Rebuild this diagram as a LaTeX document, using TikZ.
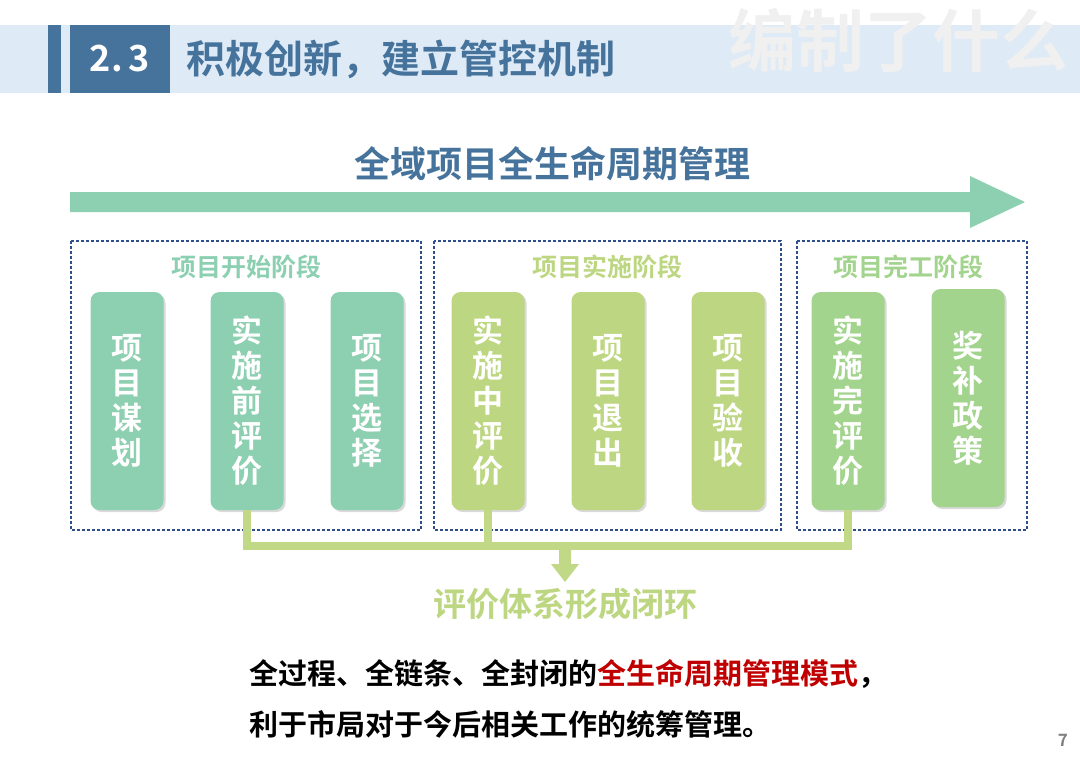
\documentclass[tikz,border=0pt]{standalone}
\usepackage{fontspec}
\setmainfont{Noto Sans CJK SC Bold}
\usetikzlibrary{arrows.meta,positioning,shadows}
\definecolor{band}{HTML}{DEEAF6}
\definecolor{steel}{HTML}{46739C}
\definecolor{teal}{HTML}{8DCFB1}
\definecolor{lime}{HTML}{BDD681}
\definecolor{leaf}{HTML}{A2D48D}
\definecolor{dotblue}{HTML}{2E4E8C}
\definecolor{linkgreen}{HTML}{C1D987}
\definecolor{redtxt}{HTML}{C00000}
\tikzset{
  pill/.style={fill=#1, rounded corners=9pt, minimum width=73pt, minimum height=218pt,
    text=white, font=\fontsize{31}{35}\selectfont, align=center, inner sep=0pt,
    drop shadow={shadow xshift=2pt, shadow yshift=-2pt, opacity=.3}},
  phase/.style={draw=dotblue, line width=2.6pt, dash pattern=on 2.6pt off 2.4pt},
  phase name/.style={font=\fontsize{25}{28}\selectfont, text=#1},
  link/.style={draw=linkgreen, line width=8pt}
}
\begin{document}
\begin{tikzpicture}[x=1pt,y=-1pt]
  \useasboundingbox (0,0) rectangle (1080,764);
  % header
  \fill[band] (0,25) rectangle (1080,93);
  \fill[steel] (48,25) rectangle (61,93);
  \node[fill=steel, minimum width=100pt, minimum height=68pt, text=white,
        font=\fontsize{36}{38}\selectfont] (num) at (120,59) {2.\,3};
  \node[anchor=west, text=steel, font=\fontsize{39}{42}\selectfont] (title) at (183,59) {积极创新，建立管控机制};
  \node[text=gray!12, font=\fontsize{68}{72}\selectfont] (mark) at (898,40) {编制了什么};
  % main arrow
  \node[text=steel, font=\fontsize{36}{40}\selectfont] (head) at (552,164) {全域项目全生命周期管理};
  \fill[teal] (70,192) -- (970,192) -- (970,176) -- (1025,202) -- (970,228) -- (970,212) -- (70,212) -- cycle;
  % phases
  \draw[phase] (71,241) rectangle (421,530);
  \draw[phase] (434,241) rectangle (781,530);
  \draw[phase] (797,241) rectangle (1027,530);
  \node[phase name=teal] (g1) at (246,267) {项目开始阶段};
  \node[phase name=lime] (g2) at (607,267) {项目实施阶段};
  \node[phase name=leaf] (g3) at (908,267) {项目完工阶段};
  \node[pill=teal] (p1) at (127,401) {项\\目\\谋\\划};
  \node[pill=teal] (p2) at (247,401) {实\\施\\前\\评\\价};
  \node[pill=teal] (p3) at (367,401) {项\\目\\选\\择};
  \node[pill=lime] (p4) at (488,401) {实\\施\\中\\评\\价};
  \node[pill=lime] (p5) at (608,401) {项\\目\\退\\出};
  \node[pill=lime] (p6) at (728,401) {项\\目\\验\\收};
  \node[pill=leaf] (p7) at (848,401) {实\\施\\完\\评\\价};
  \node[pill=leaf] (p8) at (968,398) {奖\\补\\政\\策};
  % evaluation loop
  \coordinate (bus) at (565,546);
  \draw[link] (p2.south) |- (bus) -| (p7.south);
  \draw[link] (p4.south) -- (p4.south |- bus);
  \node[font=\fontsize{33}{36}\selectfont, text=lime] (loop) at (565,604) {评价体系形成闭环};
  \fill[linkgreen] (559,546) -- (571,546) -- (571,564) -- (579,564) -- (565,582) -- (551,564) -- (559,564) -- cycle;
  % summary
  \node[anchor=west, font=\fontsize{29}{32}\selectfont] (s1) at (246,674) {全过程、全链条、全封闭的\textcolor{redtxt}{全生命周期管理模式}，};
  \node[anchor=west, font=\fontsize{29}{32}\selectfont] (s2) at (246,724) {利于市局对于今后相关工作的统筹管理。};
  \node[text=gray, font=\fontsize{17}{18}\selectfont] (pg) at (1063,740) {7};
\end{tikzpicture}
\end{document}
